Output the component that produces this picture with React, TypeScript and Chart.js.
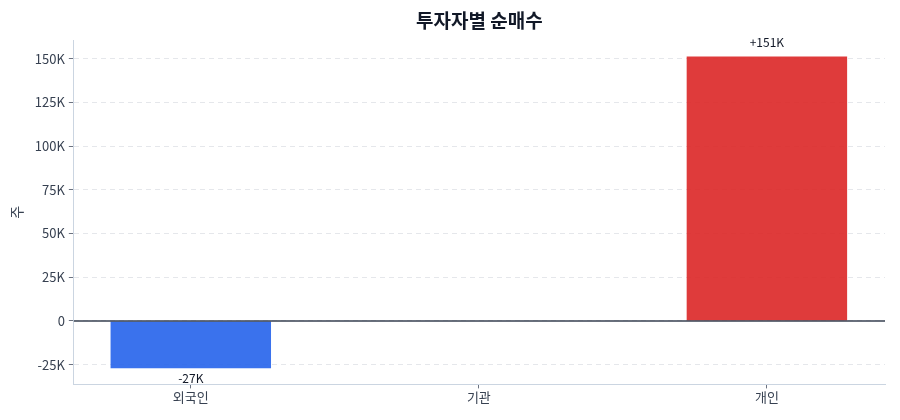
import React, { useEffect, useRef } from "react";
import { Chart, registerables } from "chart.js";

Chart.register(...registerables);

const categories = ["외국인", "기관", "개인"];
const netBuy = [-27000, 0, 151300];
const yTickStep = 25000;
const yMin = -36300;
const yMax = 160700;

const FONT = "'Noto Sans CJK KR', 'Noto Sans', sans-serif";

const fmtK = (v: number) => {
  if (v === 0) return "0";
  return `${Math.round(v / 1000)}K`;
};

const titlePlugin = {
  id: "centerTitle",
  afterDraw(chart: any) {
    const { ctx, chartArea } = chart;
    ctx.save();
    ctx.font = `bold 19px ${FONT}`;
    ctx.fillStyle = "#111827";
    ctx.textAlign = "center";
    ctx.textBaseline = "middle";
    ctx.fillText("투자자별 순매수", (chartArea.left + chartArea.right) / 2, 21);
    ctx.restore();
  },
};

const zeroAndLabels = {
  id: "zeroAndLabels",
  afterDatasetsDraw(chart: any) {
    const { ctx, chartArea, scales } = chart;
    const y0 = scales.y.getPixelForValue(0);
    ctx.save();
    ctx.strokeStyle = "#374151";
    ctx.lineWidth = 1.5;
    ctx.beginPath();
    ctx.moveTo(chartArea.left, y0);
    ctx.lineTo(chartArea.right, y0);
    ctx.stroke();

    const meta = chart.getDatasetMeta(0);
    ctx.font = `12px ${FONT}`;
    ctx.fillStyle = "#111827";
    ctx.textAlign = "center";
    meta.data.forEach((bar: any, i: number) => {
      const v = netBuy[i];
      if (v === 0) return;
      const text = (v > 0 ? "+" : "") + fmtK(v);
      if (v > 0) {
        ctx.textBaseline = "bottom";
        ctx.fillText(text, bar.x, bar.y - 8);
      } else {
        ctx.textBaseline = "top";
        ctx.fillText(text, bar.x, bar.y + 4);
      }
    });
    ctx.restore();
  },
};

export default function App() {
  const ref = useRef<HTMLCanvasElement | null>(null);

  useEffect(() => {
    if (!ref.current) return;
    const chart = new Chart(ref.current, {
      type: "bar",
      data: {
        datasets: [
          {
            data: netBuy.map((v, i) => ({ x: i, y: v })),
            backgroundColor: netBuy.map((v) =>
              v >= 0 ? "rgba(220,38,38,0.9)" : "rgba(37,99,235,0.9)"
            ),
            borderWidth: 0,
            barPercentage: 0.557,
            categoryPercentage: 1,
          },
        ],
      },
      options: {
        animation: false,
        responsive: true,
        maintainAspectRatio: false,
        layout: { padding: { top: 40, right: 15, left: 8, bottom: 14 } },
        plugins: {
          legend: { display: false },
          title: { display: false },
          tooltip: { enabled: false },
        },
        scales: {
          x: {
            type: "linear",
            min: -0.406,
            max: 2.41,
            offset: false,
            afterBuildTicks: (axis: any) => {
              axis.ticks = categories.map((_, i) => ({ value: i }));
            },
            ticks: {
              callback: (v: any) => categories[v as number] ?? "",
              font: { family: FONT, size: 13 },
              color: "#374151",
              padding: 1,
              autoSkip: false,
              maxRotation: 0,
            },
            grid: {
              offset: false,
              drawOnChartArea: false,
              drawTicks: true,
              tickLength: 4,
              tickColor: "#6b7280",
            },
            border: { color: "#cbd5e1", width: 1 },
          },
          y: {
            min: yMin,
            max: yMax,
            afterBuildTicks: (axis: any) => {
              const t = [];
              for (let v = -yTickStep; v <= 150000; v += yTickStep) t.push({ value: v });
              axis.ticks = t;
            },
            ticks: {
              callback: (v: any) => fmtK(v as number),
              font: { family: FONT, size: 13 },
              color: "#374151",
              padding: 4,
            },
            grid: {
              color: "#e5e7eb",
              tickColor: "#6b7280",
              tickLength: 5,
              tickBorderDash: [],
              lineWidth: 1,
            },
            border: { color: "#cbd5e1", dash: [5, 4], width: 1 },
            title: {
              display: true,
              text: "주",
              font: { family: FONT, size: 14 },
              color: "#374151",
              padding: { top: 0, bottom: 6 },
            },
          },
        },
      },
      plugins: [titlePlugin, zeroAndLabels],
    } as any);
    return () => chart.destroy();
  }, []);

  return (
    <div style={{ position: "fixed", left: 0, top: 0, width: 900, height: 420, background: "#fff" }}>
      <canvas ref={ref} />
    </div>
  );
}
